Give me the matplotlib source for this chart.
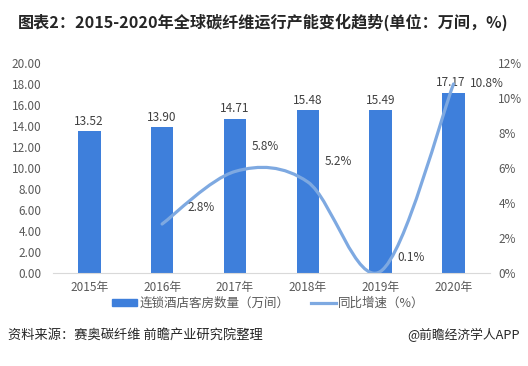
import matplotlib
matplotlib.use("Agg")
import matplotlib.pyplot as plt
from matplotlib.path import Path
from matplotlib.patches import PathPatch, Rectangle
from matplotlib.lines import Line2D
import numpy as np

plt.rcParams['font.family'] = ['Noto Sans CJK SC', 'DejaVu Sans']

years = ['2015年', '2016年', '2017年', '2018年', '2019年', '2020年']
capacity = [13.52, 13.90, 14.71, 15.48, 15.49, 17.17]
growth_years = [1, 2, 3, 4, 5]   # index into years, 2015 has no growth value
growth = [2.8, 5.8, 5.2, 0.1, 10.8]
# where each growth label sits relative to its point (offset points, h-align)
label_offsets = [(28, 12, 'center'), (22, 18, 'center'), (22, 15, 'center'),
                 (22, 10, 'center'), (12, 0, 'left')]

bar_color = '#3E7FDB'
line_color = '#7EA9E1'
text_color = '#404040'
tick_color = '#595959'

fig = plt.figure(figsize=(5.28, 3.66), dpi=100)
ax = fig.add_axes([0.100, 0.254, 0.828, 0.574])
ax2 = ax.twinx()

x = np.arange(len(years))
ax.bar(x, capacity, width=0.31, color=bar_color, zorder=2)
for xi, v in zip(x, capacity):
    ax.annotate(f'{v:.2f}', (xi, v), textcoords='offset points', xytext=(-2 if xi == 5 else 0, 7),
                ha='center', va='center', fontsize=8.5, color=text_color)

ax.set_xlim(-0.5, 5.5)
ax.set_ylim(0, 20)
ax.set_yticks(np.arange(0, 21, 2))
ax.set_yticklabels([f'{v:.2f}' for v in np.arange(0, 21, 2)])
ax.set_xticks(x)
ax.set_xticklabels(years)

ax2.set_ylim(0, 12)
ax2.set_yticks(np.arange(0, 13, 2))
ax2.set_yticklabels([f'{v}%' for v in range(0, 13, 2)])

for a in (ax, ax2):
    for s in a.spines.values():
        s.set_visible(False)
    a.tick_params(length=0, labelsize=8.5, colors=tick_color)
ax.spines['bottom'].set_visible(True)
ax.spines['bottom'].set_color('#D9D9D9')
ax.tick_params(axis='y', pad=8)
ax.tick_params(axis='x', pad=6)
ax2.tick_params(axis='y', pad=6)

# smoothed growth line (cubic bezier through the data points)
pts = np.column_stack([growth_years, growth]).astype(float)
ext = np.vstack([pts[0], pts, pts[-1]])
verts = [tuple(pts[0])]
codes = [Path.MOVETO]
for i in range(len(pts) - 1):
    p0, p1, p2, p3 = ext[i], ext[i + 1], ext[i + 2], ext[i + 3]
    c1 = p1 + (p2 - p0) / 6
    c2 = p2 - (p3 - p1) / 6
    verts += [tuple(c1), tuple(c2), tuple(p2)]
    codes += [Path.CURVE4] * 3
ax2.add_patch(PathPatch(Path(verts, codes), facecolor='none',
                        edgecolor=line_color, lw=2.3, zorder=3,
                        capstyle='round'))
for xi, v, (dx, dy, ha) in zip(growth_years, growth, label_offsets):
    ax2.annotate(f'{v}%', (xi, v), textcoords='offset points', xytext=(dx, dy),
                 ha=ha, va='center', fontsize=8.5, color=text_color)

# title
fig.text(0.034, 0.94, '图表2：2015-2020年全球碳纤维运行产能变化趋势(单位：万间，%)',
         fontsize=11.6, fontweight='bold', color='#262626', va='center')

# legend
handles = [Rectangle((0, 0), 1, 1, color=bar_color),
           Line2D([0], [0], color=line_color, lw=2.3)]
fig.legend(handles, ['连锁酒店客房数量（万间）', '同比增速（%）'],
           loc='center', bbox_to_anchor=(0.508, 0.172), ncol=2, frameon=False,
           fontsize=9, handlelength=2.0, handleheight=0.5, handletextpad=0.15,
           columnspacing=1.7, labelcolor=tick_color)

# footer
fig.text(0.015, 0.085, '资料来源：赛奥碳纤维 前瞻产业研究院整理', fontsize=9.5,
         color='#262626', va='center')
fig.text(0.985, 0.085, '@前瞻经济学人APP', fontsize=9.2, color='#262626',
         va='center', ha='right')

fig.savefig('out.png', dpi=100)
